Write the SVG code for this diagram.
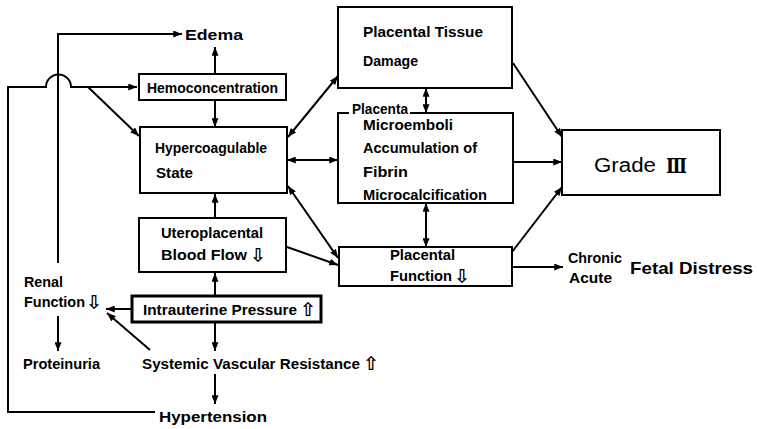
<svg xmlns="http://www.w3.org/2000/svg" width="757" height="429" viewBox="0 0 757 429">
<defs>
<marker id="ah" viewBox="0 0 10 8" refX="10" refY="4" markerWidth="9" markerHeight="7" markerUnits="userSpaceOnUse" orient="auto-start-reverse">
<path d="M0,0 L10,4 L0,8 z" fill="#000"/>
</marker>
<style>
.box{fill:#fff;stroke:#000;stroke-width:2}
.thick{fill:#fff;stroke:#000;stroke-width:3}
.ln{fill:none;stroke:#000;stroke-width:2}
.t{font-family:"Liberation Sans",Arial,sans-serif;font-size:14px;font-weight:bold;fill:#000}
.s{font-family:"DejaVu Sans","Noto Sans",sans-serif;font-size:19px;font-weight:bold;fill:#000}
</style>
</defs>
<rect width="757" height="429" fill="#fff"/>
<g id="connectors">
<path class="ln" d="M155,412 H8 V87 H46 A12.5,12.5 0 0 1 71,87 H137" marker-end="url(#ah)"/>
<path class="ln" d="M88,87 L139,136" marker-end="url(#ah)"/>
<path class="ln" d="M58,263 V34 H182" marker-end="url(#ah)"/>
<path class="ln" d="M215,74 V47" marker-end="url(#ah)"/>
<path class="ln" d="M215,100 V127" marker-end="url(#ah)"/>
<path class="ln" d="M215,218 V194" marker-end="url(#ah)"/>
<path class="ln" d="M215,296 V273" marker-end="url(#ah)"/>
<path class="ln" d="M132,309 H106" marker-end="url(#ah)"/>
<path class="ln" d="M150,350 L107,313" marker-end="url(#ah)"/>
<path class="ln" d="M215,322 V351" marker-end="url(#ah)"/>
<path class="ln" d="M215,374 V404" marker-end="url(#ah)"/>
<path class="ln" d="M58,316 V351" marker-end="url(#ah)"/>
<path class="ln" d="M288,137 L338,76" marker-start="url(#ah)" marker-end="url(#ah)"/>
<path class="ln" d="M287,160 H338" marker-start="url(#ah)" marker-end="url(#ah)"/>
<path class="ln" d="M288,186 L338,258" marker-start="url(#ah)" marker-end="url(#ah)"/>
<path class="ln" d="M287,247 L338,265" marker-end="url(#ah)"/>
<path class="ln" d="M426,88 V113" marker-start="url(#ah)" marker-end="url(#ah)"/>
<path class="ln" d="M426,203 V247" marker-start="url(#ah)" marker-end="url(#ah)"/>
<path class="ln" d="M513,63 L562,137" marker-end="url(#ah)"/>
<path class="ln" d="M513,162 H562" marker-end="url(#ah)"/>
<path class="ln" d="M512,252 L562,187" marker-end="url(#ah)"/>
<path class="ln" d="M512,267 H563" marker-end="url(#ah)"/>
</g>
<g id="edema"><text class="t" x="185" y="40" textLength="58" lengthAdjust="spacingAndGlyphs">Edema</text></g>
<g id="hemoconcentration">
<rect class="box" x="139" y="74" width="147" height="26"/>
<text class="t" x="147" y="93" textLength="131" lengthAdjust="spacingAndGlyphs">Hemoconcentration</text>
</g>
<g id="hypercoagulable">
<rect class="box" x="140" y="127" width="147" height="66"/>
<text class="t" x="155" y="153" textLength="112" lengthAdjust="spacingAndGlyphs">Hypercoagulable</text>
<text class="t" x="156" y="178" textLength="37" lengthAdjust="spacingAndGlyphs">State</text>
</g>
<g id="uteroplacental">
<rect class="box" x="139" y="218" width="147" height="54"/>
<text class="t" x="161" y="238" textLength="102" lengthAdjust="spacingAndGlyphs">Uteroplacental</text>
<text class="t" x="161" y="260" textLength="86" lengthAdjust="spacingAndGlyphs">Blood Flow</text>
<text class="s" x="250" y="262">⇩</text>
</g>
<g id="intrauterine">
<rect class="thick" x="132" y="296" width="189" height="26"/>
<text class="t" x="143" y="315" textLength="154" lengthAdjust="spacingAndGlyphs">Intrauterine Pressure</text>
<text class="s" x="300" y="316">⇧</text>
</g>
<g id="renal">
<text class="t" x="24" y="287" textLength="39" lengthAdjust="spacingAndGlyphs">Renal</text>
<text class="t" x="24" y="307" textLength="61" lengthAdjust="spacingAndGlyphs">Function</text>
<text class="s" x="86" y="309">⇩</text>
</g>
<g id="proteinuria"><text class="t" x="23" y="369" textLength="77" lengthAdjust="spacingAndGlyphs">Proteinuria</text></g>
<g id="svr">
<text class="t" x="142" y="369" textLength="218" lengthAdjust="spacingAndGlyphs">Systemic Vascular Resistance</text>
<text class="s" x="363" y="370">⇧</text>
</g>
<g id="hypertension"><text class="t" x="159" y="422" textLength="108" lengthAdjust="spacingAndGlyphs">Hypertension</text></g>
<g id="tissue-damage">
<rect class="box" x="338" y="7" width="174" height="81"/>
<text class="t" x="363" y="37" textLength="120" lengthAdjust="spacingAndGlyphs">Placental Tissue</text>
<text class="t" x="363" y="66" textLength="55" lengthAdjust="spacingAndGlyphs">Damage</text>
</g>
<g id="placenta">
<path class="box" d="M349,113 H338 V203 H513 V113 H410"/>
<text class="t" x="352" y="114" textLength="56" lengthAdjust="spacingAndGlyphs">Placenta</text>
<text class="t" x="363" y="130" textLength="90" lengthAdjust="spacingAndGlyphs">Microemboli</text>
<text class="t" x="363" y="153" textLength="114" lengthAdjust="spacingAndGlyphs">Accumulation of</text>
<text class="t" x="363" y="177" textLength="45" lengthAdjust="spacingAndGlyphs">Fibrin</text>
<text class="t" x="363" y="200" textLength="124" lengthAdjust="spacingAndGlyphs">Microcalcification</text>
</g>
<g id="placental-function">
<rect class="box" x="339" y="247" width="173" height="39"/>
<text class="t" x="390" y="260" textLength="65" lengthAdjust="spacingAndGlyphs">Placental</text>
<text class="t" x="390" y="281" textLength="62" lengthAdjust="spacingAndGlyphs">Function</text>
<text class="s" x="454" y="283">⇩</text>
</g>
<g id="grade">
<rect class="box" x="562" y="130" width="158" height="65"/>
<text x="594" y="172" font-family="'Liberation Sans',Arial,sans-serif" font-size="20" textLength="62" lengthAdjust="spacingAndGlyphs">Grade</text>
<text x="666" y="173" font-family="'DejaVu Serif','Liberation Serif',serif" font-size="21" font-weight="bold" textLength="21" lengthAdjust="spacingAndGlyphs">Ⅲ</text>
</g>
<g id="fetal-distress">
<text class="t" x="568" y="263" font-size="12" textLength="54" lengthAdjust="spacingAndGlyphs">Chronic</text>
<text class="t" x="569" y="283" font-size="12" textLength="43" lengthAdjust="spacingAndGlyphs">Acute</text>
<text class="t" x="630" y="274" style="font-size:17px" textLength="123" lengthAdjust="spacingAndGlyphs">Fetal Distress</text>
</g>
</svg>
